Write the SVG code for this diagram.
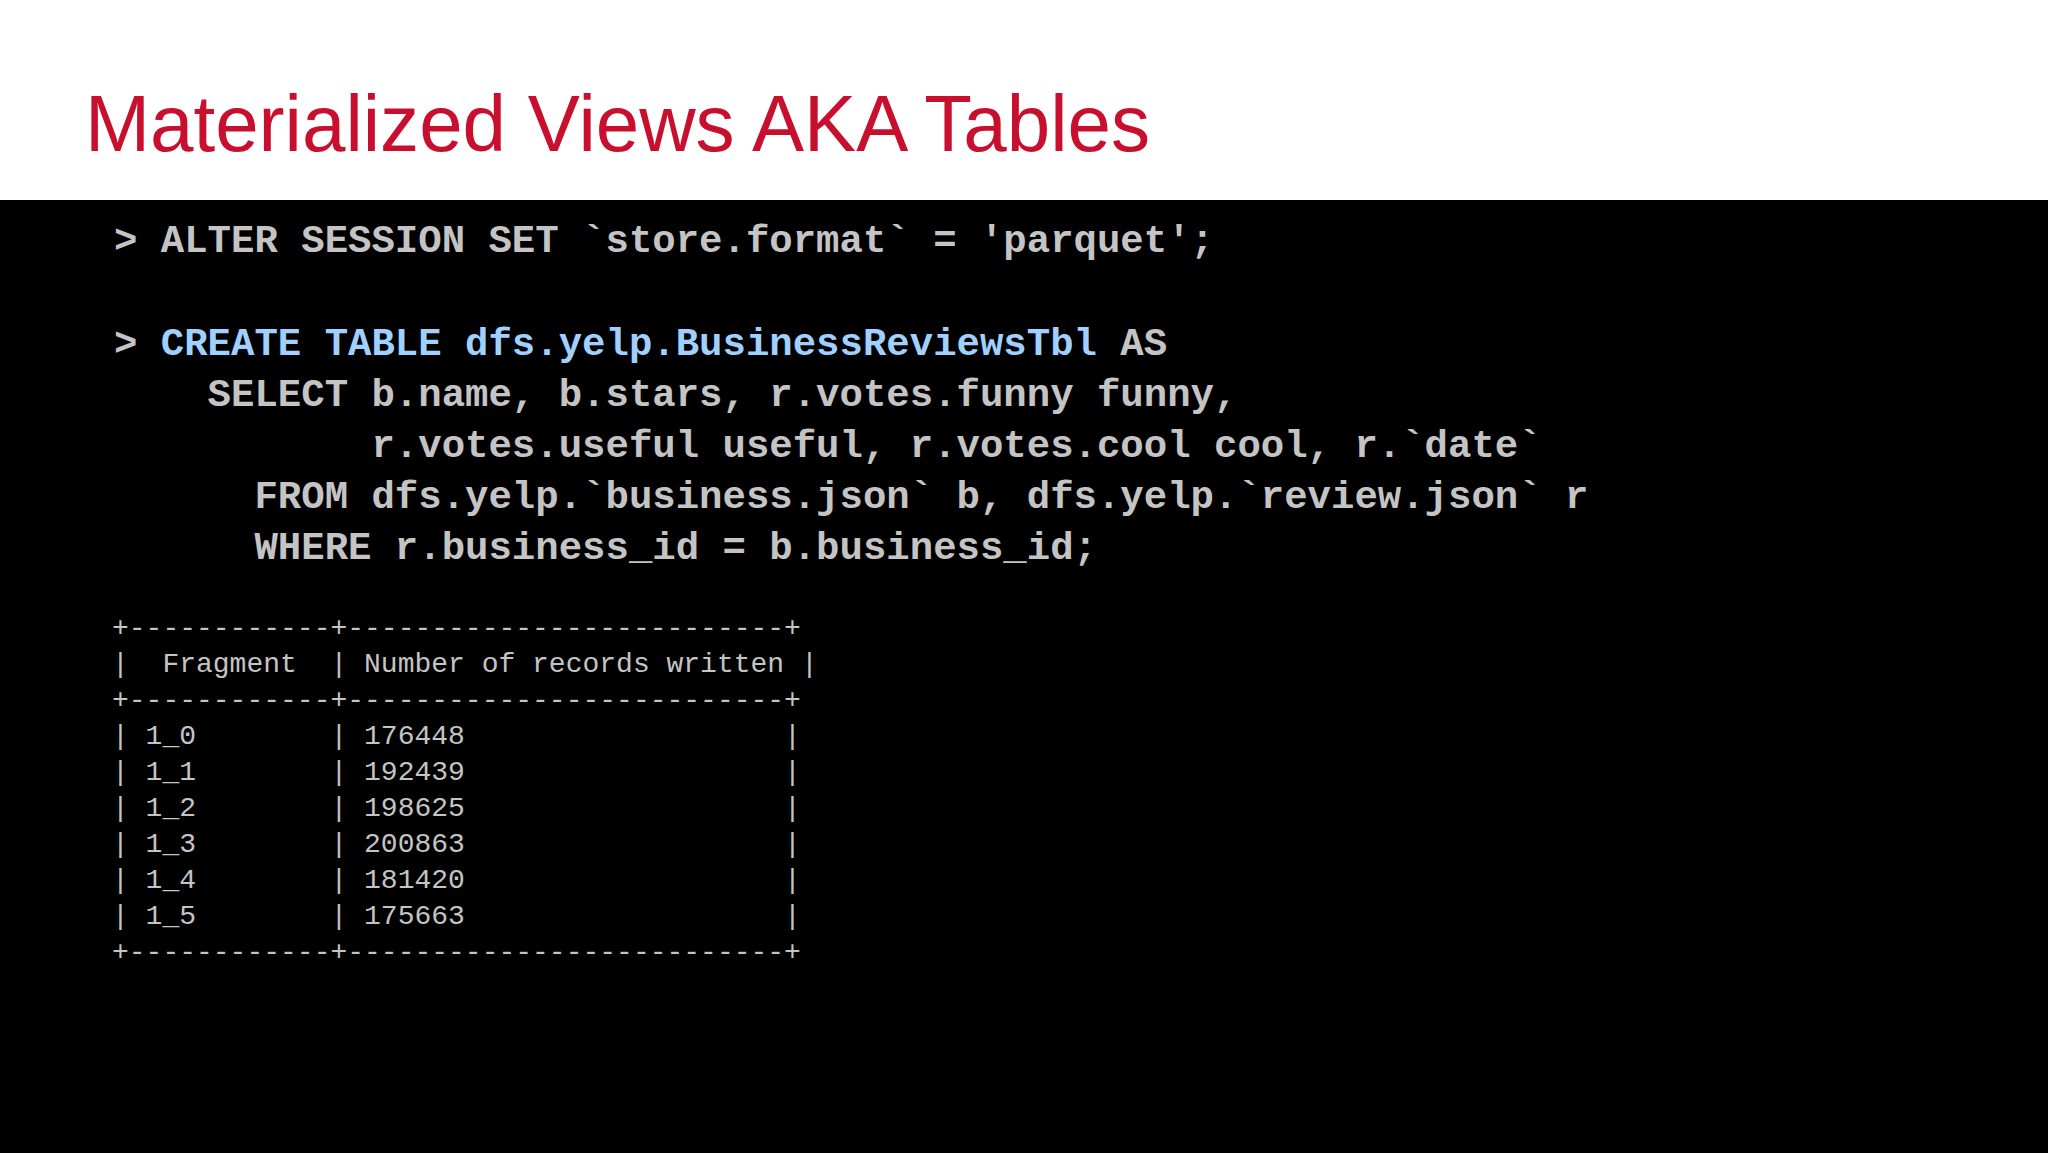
<svg xmlns="http://www.w3.org/2000/svg" width="2048" height="1153" viewBox="0 0 2048 1153">
<style>
.code{font-family:"Liberation Mono","DejaVu Sans Mono",monospace;font-size:39px;fill:#c4c4c4;white-space:pre;font-weight:bold}
.blue{fill:#9fd0ff}
.tbl{font-family:"Liberation Mono","DejaVu Sans Mono",monospace;font-size:28px;fill:#c4c4c4;white-space:pre}
</style>
<rect width="2048" height="1153" fill="#000"/>
<rect width="2048" height="200" fill="#fff"/>
<text x="85" y="151" font-family="Liberation Sans, Arial, sans-serif" font-size="80" fill="#c8102e" textLength="1065" lengthAdjust="spacingAndGlyphs">Materialized Views AKA Tables</text>
<g id="code" xml:space="preserve">
<text class="code" x="114" y="252">&gt; ALTER SESSION SET `store.format` = 'parquet';</text>
<text class="code" x="114" y="355">&gt; <tspan class="blue">CREATE TABLE dfs.yelp.BusinessReviewsTbl</tspan> AS</text>
<text class="code" x="114" y="406">    SELECT b.name, b.stars, r.votes.funny funny,</text>
<text class="code" x="114" y="457">           r.votes.useful useful, r.votes.cool cool, r.`date`</text>
<text class="code" x="114" y="508">      FROM dfs.yelp.`business.json` b, dfs.yelp.`review.json` r</text>
<text class="code" x="114" y="559">      WHERE r.business_id = b.business_id;</text>
</g>
<g id="table" xml:space="preserve">
<text class="tbl" x="112" y="636">+------------+--------------------------+</text>
<text class="tbl" x="112" y="672">|  Fragment  | Number of records written |</text>
<text class="tbl" x="112" y="708">+------------+--------------------------+</text>
<text class="tbl" x="112" y="744">| 1_0        | 176448                   |</text>
<text class="tbl" x="112" y="780">| 1_1        | 192439                   |</text>
<text class="tbl" x="112" y="816">| 1_2        | 198625                   |</text>
<text class="tbl" x="112" y="852">| 1_3        | 200863                   |</text>
<text class="tbl" x="112" y="888">| 1_4        | 181420                   |</text>
<text class="tbl" x="112" y="924">| 1_5        | 175663                   |</text>
<text class="tbl" x="112" y="960" fill="#fff">+------------+--------------------------+</text>
</g>
</svg>
